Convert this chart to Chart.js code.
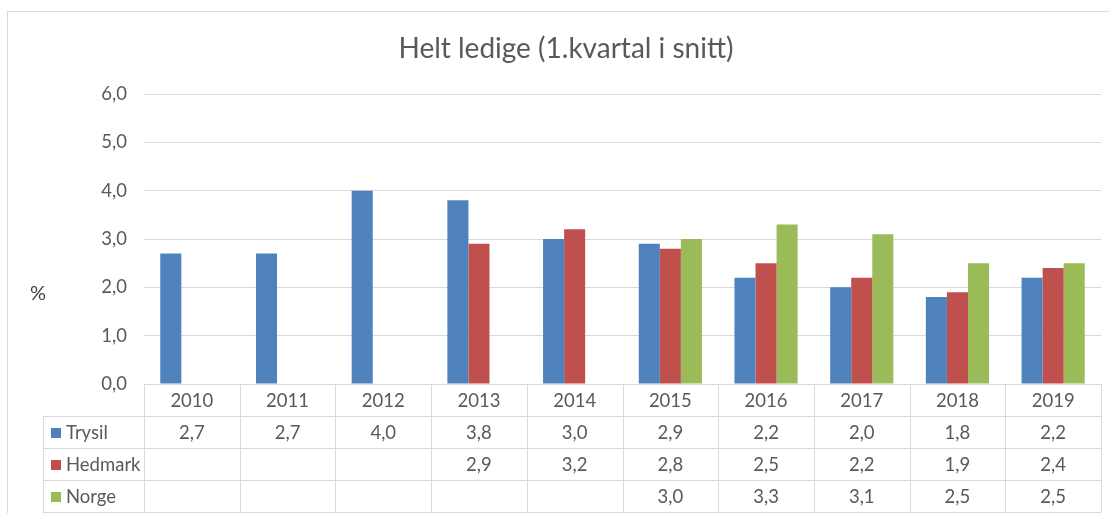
<!DOCTYPE html>
<html>
<head>
<meta charset="utf-8">
<script src="https://cdn.jsdelivr.net/npm/chart.js@4"></script>
<style>
  html, body { margin: 0; padding: 0; background: #fff; }
  #wrap { position: relative; width: 1109px; height: 513px; }
</style>
</head>
<body>
<div id="wrap"><canvas id="chart" width="1109" height="513"></canvas></div>
<script>
// Data
const years = ['2010', '2011', '2012', '2013', '2014', '2015', '2016', '2017', '2018', '2019'];
const trysil = [2.7, 2.7, 4.0, 3.8, 3.0, 2.9, 2.2, 2.0, 1.8, 2.2];
const hedmark = [null, null, null, 2.9, 3.2, 2.8, 2.5, 2.2, 1.9, 2.4];
const norge = [null, null, null, null, null, 3.0, 3.3, 3.1, 2.5, 2.5];
const seriesNames = ['Trysil', 'Hedmark', 'Norge'];
const yTicks = [0, 1, 2, 3, 4, 5, 6];

const colors = ['#4F81BD', '#C0504D', '#9BBB59'];
const textColor = '#595959';
const lineColor = '#D9D9D9';
const fontFamily = 'Lato, "Open Sans", sans-serif';

const fmt = (v) => v.toFixed(1).replace('.', ',');

// Frame, title, "%" label and the data table under the plot
const tablePlugin = {
    id: 'dataTable',
    afterDraw(chart) {
        const ctx = chart.ctx;
        const area = chart.chartArea;
        const xs = chart.scales.x;
        const n = years.length;
        const colW = (area.right - area.left) / n;
        const rowH = 32;
        const legendLeft = 43;
        const top = area.bottom;

        ctx.save();
        // outer frame
        ctx.strokeStyle = lineColor;
        ctx.lineWidth = 1;
        ctx.strokeRect(7.5, 11.5, 1200, 600);

        // title
        ctx.fillStyle = textColor;
        ctx.font = '28px ' + fontFamily;
        ctx.textAlign = 'center';
        ctx.textBaseline = 'middle';
        ctx.fillText('Helt ledige (1.kvartal i snitt)', 566, 49);

        // axis unit
        ctx.fillStyle = '#404040';
        ctx.font = '20px ' + fontFamily;
        ctx.fillText('%', 38, 294);

        // table grid
        ctx.strokeStyle = lineColor;
        ctx.beginPath();
        for (let r = 0; r <= 4; r++) {
            const y = Math.round(top + r * rowH) + 0.5;
            ctx.moveTo(r === 0 ? area.left : legendLeft, y);
            ctx.lineTo(area.right, y);
        }
        for (let i = 0; i <= n; i++) {
            const x = Math.round(area.left + i * colW) + 0.5;
            ctx.moveTo(x, top);
            ctx.lineTo(x, top + 4 * rowH);
        }
        ctx.moveTo(legendLeft + 0.5, top + rowH);
        ctx.lineTo(legendLeft + 0.5, top + 4 * rowH);
        ctx.stroke();

        // header row (categories)
        ctx.fillStyle = textColor;
        ctx.font = '18.5px ' + fontFamily;
        ctx.textAlign = 'center';
        years.forEach((yr, i) => {
            ctx.fillText(yr, xs.getPixelForValue(i), top + rowH / 2 + 1);
        });

        // series rows
        chart.data.datasets.forEach((ds, r) => {
            const cy = top + (r + 1) * rowH + rowH / 2 + 1;
            ctx.fillStyle = ds.backgroundColor;
            ctx.fillRect(51, cy - 5, 10, 10);
            ctx.fillStyle = textColor;
            ctx.textAlign = 'left';
            ctx.fillText(ds.label, 66, cy);
            ctx.textAlign = 'center';
            ds.data.forEach((v, i) => {
                if (v !== null) ctx.fillText(fmt(v), xs.getPixelForValue(i), cy);
            });
        });
        ctx.restore();
    }
};

const seriesData = [trysil, hedmark, norge];

new Chart(document.getElementById('chart'), {
    type: 'bar',
    data: {
        labels: years,
        datasets: seriesNames.map((name, i) => ({
            label: name,
            data: seriesData[i],
            backgroundColor: colors[i],
            borderWidth: 0,
            barPercentage: 1.0,
            categoryPercentage: 0.66
        }))
    },
    options: {
        responsive: false,
        animation: false,
        layout: { padding: { left: 0, top: 94, right: 8, bottom: 129 } },
        plugins: {
            legend: { display: false },
            title: { display: false },
            tooltip: { enabled: false }
        },
        scales: {
            x: { display: false },
            y: {
                min: 0,
                max: 6,
                afterFit: (scale) => { scale.width = 144; },
                afterBuildTicks: (scale) => { scale.ticks = yTicks.map(v => ({ value: v })); },
                border: { display: false },
                grid: { color: lineColor, drawTicks: false },
                ticks: {
                    padding: 17,
                    color: textColor,
                    font: { family: fontFamily, size: 18.5 },
                    callback: (v) => fmt(v)
                }
            }
        }
    },
    plugins: [tablePlugin]
});
</script>
</body>
</html>
